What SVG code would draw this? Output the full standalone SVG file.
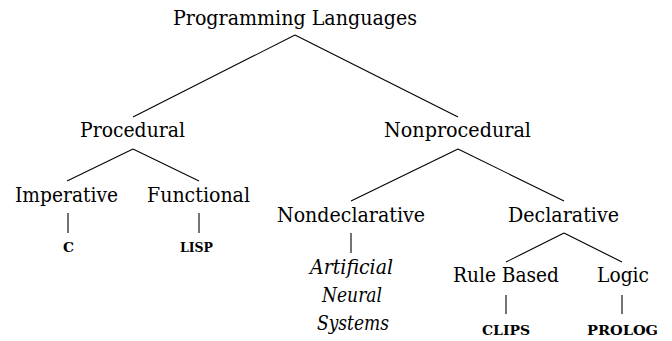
<svg xmlns="http://www.w3.org/2000/svg" width="672" height="341" viewBox="0 0 672 341">
<style>
  text { font-family: 'DejaVu Serif', serif; fill: #000; }
  .lbl { font-size: 20px; }
  .it { font-style: italic; }
  .sc { font-size: 12.5px; font-weight: bold; }
  .edge { stroke: #000; stroke-width: 1.1; fill: none; stroke-linecap: butt; }
</style>
<rect width="672" height="341" fill="#fff"/>
<g id="connectors">
  <line class="edge" x1="295" y1="35" x2="133" y2="117"/>
  <line class="edge" x1="295" y1="35" x2="458" y2="117"/>
  <line class="edge" x1="133" y1="149" x2="67" y2="181"/>
  <line class="edge" x1="133" y1="149" x2="199" y2="181"/>
  <line class="edge" x1="68" y1="213" x2="68" y2="233"/>
  <line class="edge" x1="199" y1="213" x2="199" y2="233"/>
  <line class="edge" x1="458" y1="149" x2="351" y2="201"/>
  <line class="edge" x1="458" y1="149" x2="564" y2="201"/>
  <line class="edge" x1="351" y1="233" x2="351" y2="253"/>
  <line class="edge" x1="564" y1="233" x2="506" y2="262"/>
  <line class="edge" x1="564" y1="233" x2="622" y2="262"/>
  <line class="edge" x1="506" y1="295" x2="506" y2="314"/>
  <line class="edge" x1="622" y1="295" x2="622" y2="314"/>
</g>
<g id="programming-languages"><text class="lbl" x="173" y="25" textLength="244" lengthAdjust="spacingAndGlyphs">Programming Languages</text></g>
<g id="procedural"><text class="lbl" x="80" y="137" textLength="105" lengthAdjust="spacingAndGlyphs">Procedural</text></g>
<g id="nonprocedural"><text class="lbl" x="384" y="137" textLength="147" lengthAdjust="spacingAndGlyphs">Nonprocedural</text></g>
<g id="imperative"><text class="lbl" x="15" y="202" textLength="103" lengthAdjust="spacingAndGlyphs">Imperative</text></g>
<g id="functional"><text class="lbl" x="147" y="202" textLength="103" lengthAdjust="spacingAndGlyphs">Functional</text></g>
<g id="c"><text class="sc" x="63" y="252" textLength="11" lengthAdjust="spacingAndGlyphs">C</text></g>
<g id="lisp"><text class="sc" x="180" y="252" textLength="33" lengthAdjust="spacingAndGlyphs">LISP</text></g>
<g id="nondeclarative"><text class="lbl" x="277" y="222" textLength="148" lengthAdjust="spacingAndGlyphs">Nondeclarative</text></g>
<g id="declarative"><text class="lbl" x="508" y="222" textLength="111" lengthAdjust="spacingAndGlyphs">Declarative</text></g>
<g id="ann">
  <text class="lbl it" x="310" y="274" textLength="83" lengthAdjust="spacingAndGlyphs">Artificial</text>
  <text class="lbl it" x="322" y="302" textLength="60" lengthAdjust="spacingAndGlyphs">Neural</text>
  <text class="lbl it" x="317" y="330" textLength="72" lengthAdjust="spacingAndGlyphs">Systems</text>
</g>
<g id="rule-based"><text class="lbl" x="453" y="282" textLength="106" lengthAdjust="spacingAndGlyphs">Rule Based</text></g>
<g id="logic"><text class="lbl" x="597" y="282" textLength="52" lengthAdjust="spacingAndGlyphs">Logic</text></g>
<g id="clips"><text class="sc" x="482" y="335" textLength="48" lengthAdjust="spacingAndGlyphs">CLIPS</text></g>
<g id="prolog"><text class="sc" x="587" y="335" textLength="71" lengthAdjust="spacingAndGlyphs">PROLOG</text></g>
</svg>
